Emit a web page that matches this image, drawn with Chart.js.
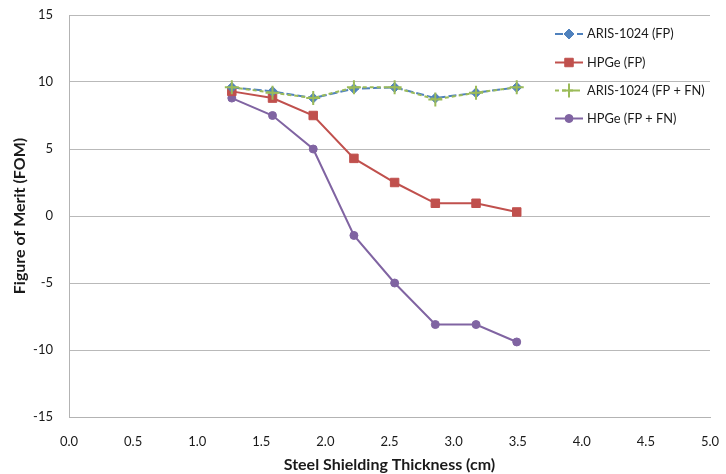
<!DOCTYPE html>
<html>
<head>
<meta charset="utf-8">
<script src="https://cdn.jsdelivr.net/npm/chart.js@4/dist/chart.umd.min.js"></script>
<style>
  html, body { margin: 0; padding: 0; background: #fff; }
  #wrap { width: 726px; height: 474px; }
</style>
</head>
<body>
<div id="wrap"><canvas id="c"></canvas></div>
<script>
// Steel shielding thickness (cm) for each measurement
const thickness = [1.27, 1.5875, 1.905, 2.2225, 2.54, 2.8575, 3.175, 3.4925];

// Figure of merit per detector / criterion
const arisFP    = [9.6, 9.3, 8.8, 9.5, 9.6, 8.8, 9.2, 9.6];
const hpgeFP    = [9.3, 8.8, 7.5, 4.3, 2.5, 0.95, 0.95, 0.3];
const arisFPFN  = [9.6, 9.2, 8.8, 9.6, 9.6, 8.7, 9.2, 9.6];
const hpgeFPFN  = [8.8, 7.5, 5.0, -1.45, -5.0, -8.1, -8.1, -9.4];

const seriesLabels = ['ARIS-1024 (FP)', 'HPGe (FP)', 'ARIS-1024 (FP + FN)', 'HPGe (FP + FN)'];
const xTicks = [0, 0.5, 1, 1.5, 2, 2.5, 3, 3.5, 4, 4.5, 5];
const yTicks = [-15, -10, -5, 0, 5, 10, 15];

const FONT = 'Lato, "Open Sans", sans-serif';
const pts = (ys) => thickness.map((x, i) => ({ x, y: ys[i] }));

const datasets = [
  { label: seriesLabels[0], data: pts(arisFP), borderColor: '#4F81BD', backgroundColor: '#4F81BD',
    borderWidth: 2, borderDash: [8, 3], pointStyle: 'rectRot', pointRadius: 5, pointBorderWidth: 1, order: 2 },
  { label: seriesLabels[1], data: pts(hpgeFP), borderColor: '#C0504D', backgroundColor: '#C0504D',
    borderWidth: 2, pointStyle: 'rect', pointRadius: 6, pointBorderWidth: 1, order: 3 },
  { label: seriesLabels[2], data: pts(arisFPFN), borderColor: '#9BBB59', backgroundColor: '#9BBB59',
    borderWidth: 2, borderDash: [4, 3], pointStyle: 'cross', pointRadius: 7, pointBorderWidth: 2, order: 1 },
  { label: seriesLabels[3], data: pts(hpgeFPFN), borderColor: '#8064A2', backgroundColor: '#8064A2',
    borderWidth: 2, pointStyle: 'circle', pointRadius: 4, pointBorderWidth: 1, order: 4 }
];

// Legend drawn as a column inside the plot, on the right
const sideLegend = {
  id: 'sideLegend',
  afterDraw(chart) {
    const ctx = chart.ctx;
    const x0 = 555, x1 = 583, xm = 569, xt = 587;
    const rows = [34, 62.5, 90.5, 118.5];
    chart.data.datasets.forEach((ds, i) => {
      const y = rows[i];
      ctx.save();
      ctx.strokeStyle = ds.borderColor;
      ctx.lineWidth = ds.borderWidth;
      ctx.setLineDash(ds.borderDash || []);
      ctx.beginPath();
      ctx.moveTo(x0, y);
      ctx.lineTo(x1, y);
      ctx.stroke();
      ctx.setLineDash([]);
      ctx.fillStyle = ds.backgroundColor;
      ctx.strokeStyle = ds.borderColor;
      ctx.lineWidth = ds.pointBorderWidth;
      Chart.helpers.drawPoint(ctx, {
        pointStyle: ds.pointStyle, rotation: 0, radius: ds.pointRadius, borderWidth: ds.pointBorderWidth
      }, xm, y);
      ctx.restore();
      ctx.save();
      ctx.fillStyle = '#1a1a1a';
      ctx.font = '12.8px ' + FONT;
      ctx.textBaseline = 'middle';
      ctx.fillText(ds.label, xt, y);
      ctx.restore();
    });
  }
};

new Chart(document.getElementById('c'), {
  type: 'line',
  data: { datasets },
  options: {
    responsive: true,
    maintainAspectRatio: false,
    animation: false,
    layout: { padding: { left: 0, right: 16, top: 15, bottom: 0 } },
    plugins: { legend: { display: false }, tooltip: { enabled: false } },
    elements: { line: { tension: 0 } },
    scales: {
      x: {
        type: 'linear', min: 0, max: 5,
        afterBuildTicks: (s) => { s.ticks = xTicks.map(v => ({ value: v })); },
        afterFit: (s) => { s.height = 57; },
        grid: { display: true, drawOnChartArea: false, drawTicks: true, tickLength: 17,
                color: 'rgba(0,0,0,0)', tickColor: 'rgba(0,0,0,0)' },
        border: { display: true, color: '#b3b3b3', width: 1 },
        ticks: { padding: 0, color: '#1a1a1a', font: { family: FONT, size: 13 }, callback: v => v.toFixed(1), maxRotation: 0 },
        title: { display: true, text: 'Steel Shielding Thickness (cm)', color: '#1a1a1a',
                 font: { family: FONT, size: 16, weight: 'bold' }, padding: { top: 0, bottom: 0 } }
      },
      y: {
        min: -15, max: 15,
        afterBuildTicks: (s) => { s.ticks = yTicks.map(v => ({ value: v })); },
        afterFit: (s) => { s.width = 69; },
        grid: { color: '#b9b9b9', lineWidth: 1, drawTicks: true, tickLength: 16, tickColor: 'rgba(0,0,0,0)' },
        border: { display: true, color: '#b3b3b3', width: 1 },
        ticks: { padding: 0, color: '#1a1a1a', font: { family: FONT, size: 13 } },
        title: { display: true, text: 'Figure of Merit (FOM)', color: '#1a1a1a',
                 font: { family: FONT, size: 16, weight: 'bold' }, padding: { top: 10, bottom: 6 } }
      }
    }
  },
  plugins: [sideLegend]
});
</script>
</body>
</html>
